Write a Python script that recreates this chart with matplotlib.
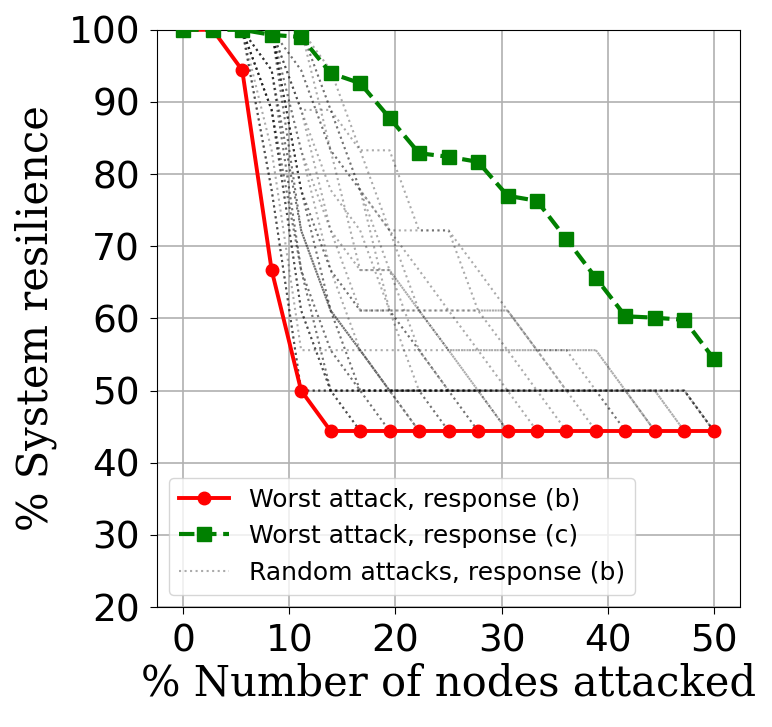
import numpy as np
import matplotlib
matplotlib.use('Agg')
import matplotlib.pyplot as plt

# % of nodes attacked (19 steps)
x_pct = [0, 2.78, 5.56, 8.33, 11.11, 13.89, 16.67, 19.44, 22.22, 25.0,
         27.78, 30.56, 33.33, 36.11, 38.89, 41.67, 44.44, 47.22, 50.0]

worst_b = [100, 100, 94.4, 66.7, 50.0, 44.4, 44.4, 44.4, 44.4, 44.4,
           44.4, 44.4, 44.4, 44.4, 44.4, 44.4, 44.4, 44.4, 44.4]
worst_c = [100, 100, 100, 99.3, 99.0, 94.0, 92.6, 87.8, 82.9, 82.4,
           81.7, 77.0, 76.3, 71.0, 65.6, 60.3, 60.1, 59.8, 54.4]

# random attacks, response (b)
rand_a = [100, 100, 100, 77.8, 50.0, 50.0, 50.0, 50.0, 50.0, 50.0, 50.0, 50.0, 50.0, 50.0, 50.0, 50.0, 50.0, 50.0, 44.4]
rand_b = [100, 100, 100, 83.3, 55.6, 55.6, 55.6, 50.0, 44.4, 44.4, 44.4, 44.4, 44.4, 44.4, 44.4, 44.4, 44.4, 44.4, 44.4]
rand_c = [100, 100, 100, 88.9, 61.1, 50.0, 44.4, 44.4, 44.4, 44.4, 44.4, 44.4, 44.4, 44.4, 44.4, 44.4, 44.4, 44.4, 44.4]
rand_d = [100, 100, 100, 94.4, 66.7, 55.6, 50.0, 44.4, 44.4, 44.4, 44.4, 44.4, 44.4, 44.4, 44.4, 44.4, 44.4, 44.4, 44.4]
rand_e = [100, 100, 100, 100, 72.2, 61.1, 55.6, 50.0, 50.0, 44.4, 44.4, 44.4, 44.4, 44.4, 44.4, 44.4, 44.4, 44.4, 44.4]
rand_f = [100, 100, 100, 100, 77.8, 66.7, 61.1, 61.1, 55.6, 50.0, 44.4, 44.4, 44.4, 44.4, 44.4, 44.4, 44.4, 44.4, 44.4]
rand_g = [100, 100, 100, 100, 83.3, 72.2, 66.7, 66.7, 61.1, 55.6, 50.0, 44.4, 44.4, 44.4, 44.4, 44.4, 44.4, 44.4, 44.4]
rand_h = [100, 100, 100, 100, 88.9, 77.8, 72.2, 61.1, 50.0, 50.0, 50.0, 50.0, 50.0, 44.4, 44.4, 44.4, 44.4, 44.4, 44.4]
rand_i = [100, 100, 100, 100, 94.4, 83.3, 77.8, 72.2, 66.7, 61.1, 55.6, 50.0, 44.4, 44.4, 44.4, 44.4, 44.4, 44.4, 44.4]
rand_j = [100, 100, 100, 100, 88.9, 88.9, 77.8, 66.7, 61.1, 55.6, 50.0, 50.0, 50.0, 50.0, 44.4, 44.4, 44.4, 44.4, 44.4]
rand_k = [100, 100, 100, 100, 100, 94.4, 83.3, 83.3, 72.2, 72.2, 66.7, 61.1, 55.6, 50.0, 50.0, 50.0, 44.4, 44.4, 44.4]
rand_l = [100, 100, 100, 100, 100, 88.9, 77.8, 72.2, 72.2, 72.2, 61.1, 61.1, 55.6, 55.6, 55.6, 50.0, 44.4, 44.4, 44.4]
rand_m = [100, 100, 100, 100, 94.4, 83.3, 77.8, 61.1, 61.1, 61.1, 61.1, 61.1, 55.6, 50.0, 50.0, 50.0, 50.0, 50.0, 44.4]
rand_n = [100, 100, 100, 100, 100, 83.3, 66.7, 66.7, 55.6, 55.6, 55.6, 55.6, 55.6, 55.6, 55.6, 50.0, 50.0, 44.4, 44.4]
rand_o = [100, 100, 100, 88.9, 66.7, 50.0, 50.0, 50.0, 44.4, 44.4, 44.4, 44.4, 44.4, 44.4, 44.4, 44.4, 44.4, 44.4, 44.4]
rand_p = [100, 100, 100, 94.4, 72.2, 61.1, 55.6, 50.0, 50.0, 50.0, 50.0, 44.4, 44.4, 44.4, 44.4, 44.4, 44.4, 44.4, 44.4]
rand_q = [100, 100, 100, 100, 83.3, 66.7, 55.6, 55.6, 55.6, 50.0, 50.0, 50.0, 50.0, 50.0, 50.0, 50.0, 44.4, 44.4, 44.4]
rand_r = [100, 100, 100, 100, 77.8, 61.1, 50.0, 50.0, 50.0, 50.0, 50.0, 50.0, 50.0, 50.0, 50.0, 44.4, 44.4, 44.4, 44.4]
rand_s = [100, 100, 100, 100, 88.9, 72.2, 61.1, 61.1, 61.1, 61.1, 61.1, 55.6, 50.0, 50.0, 50.0, 50.0, 50.0, 50.0, 44.4]
rand_t = [100, 100, 100, 100, 100, 88.9, 83.3, 72.2, 61.1, 55.6, 55.6, 55.6, 55.6, 55.6, 50.0, 50.0, 50.0, 44.4, 44.4]

random_runs = [rand_a, rand_b, rand_c, rand_d, rand_e, rand_f, rand_g, rand_h, rand_i, rand_j,
               rand_k, rand_l, rand_m, rand_n, rand_o, rand_p, rand_q, rand_r, rand_s, rand_t,
               rand_a, rand_c, rand_d, rand_o, rand_e, rand_f, rand_p, rand_r, rand_a, rand_c]

fig = plt.figure(figsize=(7.72, 7.27), dpi=100)
ax = fig.add_axes([0.203, 0.165, 0.756, 0.794])

ax.plot(x_pct, worst_b, 'r-o', linewidth=2.8, markersize=9, label='Worst attack, response (b)', zorder=5)
ax.plot(x_pct, worst_c, color='g', linestyle='--', marker='s', linewidth=3, markersize=10,
        label='Worst attack, response (c)', zorder=5)
for i, run in enumerate(random_runs):
    ax.plot(x_pct, run, color='k', linestyle=':', linewidth=1.5, alpha=0.33,
            label='Random attacks, response (b)' if i == 0 else None, zorder=3)

ax.set_xlim(-2.5, 52.5)
ax.set_ylim(20, 100)
ax.set_xticks([0, 10, 20, 30, 40, 50])
ax.set_yticks([20, 30, 40, 50, 60, 70, 80, 90, 100])
ax.tick_params(labelsize=27, length=5, pad=7)
ax.grid(True, color='#b0b0b0', linewidth=1.2)
ax.set_axisbelow(True)
ax.set_xlabel('% Number of nodes attacked', fontsize=30, family='DejaVu Serif', labelpad=2)
ax.set_ylabel('% System resilience', fontsize=30, family='DejaVu Serif', labelpad=8)
ax.legend(loc='lower left', fontsize=18)

plt.savefig('out.png', dpi=100)
plt.close()
